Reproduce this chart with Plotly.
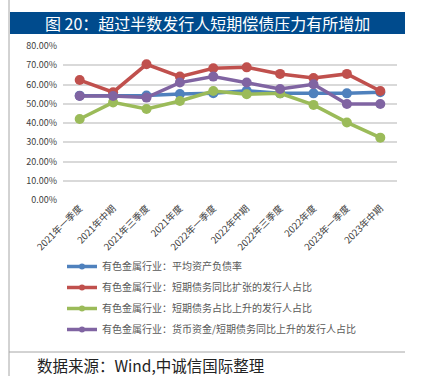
import plotly.graph_objects as go

categories = ["2021年一季度", "2021年中期", "2021年三季度", "2021年度", "2022年一季度",
              "2022年中期", "2022年三季度", "2022年度", "2023年一季度", "2023年中期"]
avg_debt_ratio = [0.542, 0.543, 0.543, 0.551, 0.555, 0.567, 0.554, 0.554, 0.554, 0.560]
st_debt_expand = [0.623, 0.560, 0.705, 0.641, 0.684, 0.689, 0.655, 0.634, 0.655, 0.566]
st_debt_share_up = [0.421, 0.507, 0.473, 0.514, 0.566, 0.549, 0.554, 0.494, 0.403, 0.324]
cash_to_st_debt_up = [0.540, 0.540, 0.532, 0.610, 0.641, 0.610, 0.577, 0.601, 0.499, 0.499]

names = ["有色金属行业：平均资产负债率",
         "有色金属行业：短期债务同比扩张的发行人占比",
         "有色金属行业：短期债务占比上升的发行人占比",
         "有色金属行业：货币资金/短期债务同比上升的发行人占比"]
colors = ["#4f81bd", "#c0504d", "#9bbb59", "#8064a2"]
series = [avg_debt_ratio, st_debt_expand, st_debt_share_up, cash_to_st_debt_up]

fig = go.Figure()
for i, (nm, c, s) in enumerate(zip(names, colors, series)):
    fig.add_trace(go.Scatter(
        x=categories, y=s, name=nm, mode="lines+markers",
        line=dict(color=c, width=3.5), marker=dict(color=c, size=10),
        legendgroup=str(i), showlegend=False))
    # legend entry with small marker, as in the original
    fig.add_trace(go.Scatter(
        x=[categories[0]], y=[None], name=nm, mode="lines+markers",
        line=dict(color=c, width=3.5), marker=dict(color=c, size=6),
        legendgroup=str(i), showlegend=True, hoverinfo="skip"))

# layout helpers (pixel -> paper)
L, R, T, B = 63, 27, 46, 176
W, H = 424, 376
pw, ph = W - L - R, H - T - B
def px(x): return (x - L) / pw
def py(y): return (H - B - y) / ph

fig.update_layout(
    width=W, height=H,
    margin=dict(l=L, r=R, t=T, b=B),
    paper_bgcolor="white", plot_bgcolor="white",
    font=dict(family="Noto Sans CJK SC, sans-serif", color="#404040"),
    showlegend=True,
    legend=dict(x=px(62), y=py(252), xanchor="left", yanchor="top",
                orientation="v", font=dict(size=10, color="#595959"),
                itemwidth=30, tracegroupgap=2,
                bgcolor="rgba(0,0,0,0)"),
    xaxis=dict(type="category", range=[-0.5, 9.5], tickangle=-45,
               tickfont=dict(size=9.5, color="#404040"), showgrid=False,
               showline=False, ticks=""),
    yaxis=dict(range=[0, 0.8], dtick=0.1, tickformat=".2%",
               tickfont=dict(size=9, color="#404040"), ticklabelstandoff=5,
               showgrid=True, gridcolor="#d9d9d9", gridwidth=1.5,
               zeroline=False, showline=False, ticks=""),
    shapes=[
        dict(type="rect", xref="paper", yref="paper", x0=px(10), x1=px(405),
             y0=py(34), y1=py(12), fillcolor="#004b8d", line=dict(width=0), layer="below"),
        dict(type="line", xref="paper", yref="paper", x0=px(9), x1=px(9),
             y0=py(0), y1=py(376), line=dict(color="#a6a6a6", width=1)),
        dict(type="line", xref="paper", yref="paper", x0=px(9), x1=px(405),
             y0=py(352), y1=py(352), line=dict(color="#a6a6a6", width=1)),
    ],
    annotations=[
        dict(text="图 20：超过半数发行人短期偿债压力有所增加", xref="paper", yref="paper",
             x=px(207), y=py(23), xanchor="center", yanchor="middle", showarrow=False,
             font=dict(size=16, color="white", family="Noto Sans CJK SC")),
        dict(text="数据来源：Wind,中诚信国际整理", xref="paper", yref="paper",
             x=px(35), y=py(365), xanchor="left", yanchor="middle", showarrow=False,
             font=dict(size=15.5, color="#222222", family="Noto Sans CJK SC")),
    ],
)

fig.write_html("out.html", config={"displayModeBar": False},
               post_script="document.body.style.margin='0';document.body.style.overflow='hidden';")
